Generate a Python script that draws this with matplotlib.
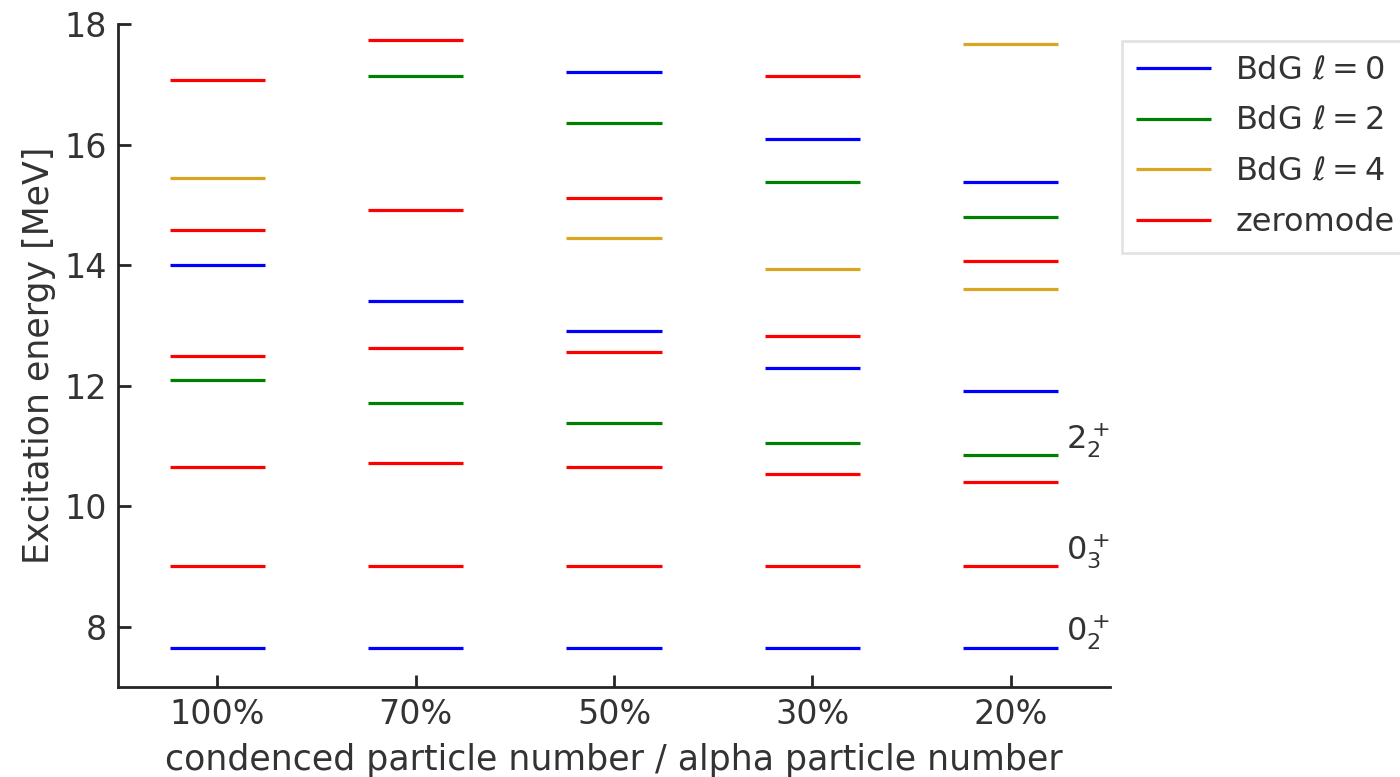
import numpy as np
import matplotlib.pyplot as plt

plt.rcParams['font.family'] = ['DejaVu Sans']

cases = ['100%', '70%', '50%', '30%', '20%']

# levels per case [MeV]
bdg_l0 = [[14.0, 7.65], [13.40, 7.65], [17.20, 12.91, 7.65], [16.10, 12.29, 7.65], [15.38, 11.91, 7.65]]
bdg_l2 = [[12.09], [17.14, 11.71], [16.36, 11.38], [15.38, 11.05], [14.80, 10.85]]
bdg_l4 = [[15.44], [], [14.45], [13.94], [17.67, 13.60]]
zeromode = [[17.07, 14.58, 12.49, 10.65, 9.0],
            [17.73, 14.91, 12.62, 10.71, 9.0],
            [15.11, 12.56, 10.65, 9.0],
            [17.14, 12.82, 10.53, 9.0],
            [14.07, 10.40, 9.0]]

state_names = ['$0_2^+$', '$0_3^+$', '$2_2^+$']
state_levels = [7.65, 9.0, 10.85]

half_w = 0.24


def draw_levels(ax, levels, color, label):
    xs = []
    ys = []
    for i, lv in enumerate(levels):
        for e in lv:
            xs.append(i)
            ys.append(e)
    xs = np.array(xs, dtype=float)
    ax.hlines(ys, xs - half_w, xs + half_w, colors=color, lw=2.3, label=label)


fig = plt.figure(figsize=(14, 7.77), dpi=100)
ax = fig.add_axes([0.0843, 0.116, 0.7086, 0.853])

draw_levels(ax, bdg_l0, 'blue', r'BdG $\ell=0$')
draw_levels(ax, bdg_l2, 'green', r'BdG $\ell=2$')
draw_levels(ax, bdg_l4, 'goldenrod', r'BdG $\ell=4$')
draw_levels(ax, zeromode, 'red', 'zeromode')

for name, e in zip(state_names, state_levels):
    ax.text(len(cases) - 1 + 0.28, e + 0.25, name, fontsize=23, color='#333333', va='center', ha='left')

ax.set_xlim(-0.5, len(cases) - 0.5)
ax.set_ylim(7, 18)
ax.set_xticks(range(len(cases)))
ax.set_xticklabels(cases)
ax.set_yticks([8, 10, 12, 14, 16, 18])
ax.set_xlabel('condenced particle number / alpha particle number', fontsize=25, color='#333333', labelpad=9)
ax.set_ylabel('Excitation energy [MeV]', fontsize=25, color='#333333', labelpad=6)

for s in ['top', 'right']:
    ax.spines[s].set_visible(False)
for s in ['left', 'bottom']:
    ax.spines[s].set_linewidth(2.0)
    ax.spines[s].set_color('#262626')
ax.tick_params(direction='in', length=9, width=2.0, color='#262626', labelsize=24, labelcolor='#333333', pad=8)

leg = ax.legend(loc='upper left', bbox_to_anchor=(1.012, 0.975), borderaxespad=0,
                fontsize=23, handlelength=2.35, handletextpad=0.75, labelspacing=0.62,
                fancybox=False, edgecolor='#dddddd', labelcolor='#333333', borderpad=0.45)
leg.get_frame().set_linewidth(2.0)

fig.savefig('out.png', dpi=100)
